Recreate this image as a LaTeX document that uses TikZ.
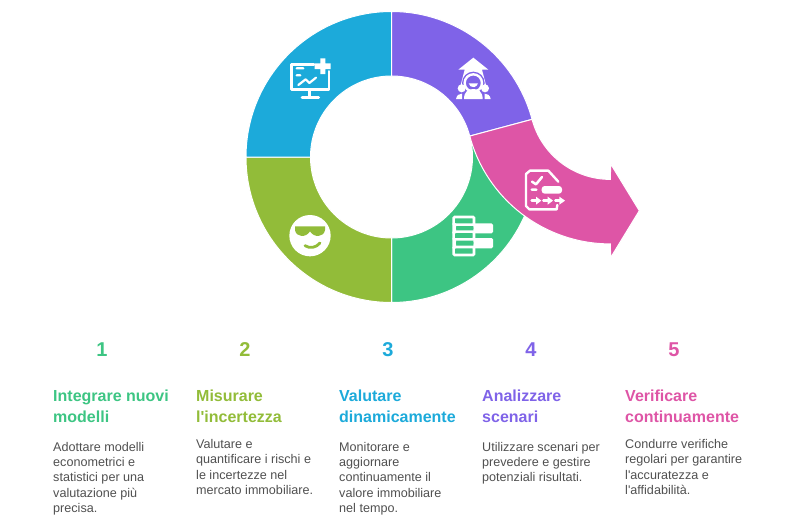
\documentclass[tikz,border=0pt]{standalone}
\usepackage{fontspec}
\setmainfont{Liberation Sans}[Ligatures=TeXOff]
\definecolor{cgreen}{HTML}{3DC583}
\definecolor{colive}{HTML}{92BC39}
\definecolor{cblue}{HTML}{1CAADA}
\definecolor{cpurple}{HTML}{7F63E8}
\definecolor{cpink}{HTML}{DE55A6}
\definecolor{cbody}{HTML}{505050}
\tikzset{
  seg/.style={draw=white,line width=1pt,line join=miter},
  num/.style={anchor=base,inner sep=0pt,font=\bfseries\fontsize{20}{24}\selectfont},
  head/.style={anchor=base west,inner sep=0pt,align=left,font=\bfseries\fontsize{16}{20.5}\selectfont},
  body/.style={anchor=base west,inner sep=0pt,align=left,text=cbody,font=\fontsize{12.6}{15.35}\selectfont},
  ic/.style={draw=white,line width=2.7pt,line cap=round,line join=round},
  icthin/.style={draw=white,line width=2.2pt,line cap=round,line join=round},
  zoomed/.style={shift={(240,0)},x=0.33333pt,y=-0.33333pt}
}
\begin{document}
\begin{tikzpicture}[x=1pt,y=1pt]
\useasboundingbox (0,0) rectangle (797,-522);
\coordinate (c) at (391.5,-157);
\coordinate (d) at (610.3,-98.4);
% ring segments
\fill[cgreen,seg] ([shift={(-90:145.5pt)}]c) arc[start angle=-90,end angle=15,radius=145.5pt] -- ([shift={(15:81pt)}]c) arc[start angle=15,end angle=-90,radius=81pt] -- cycle;
\fill[colive,seg] ([shift={(180:145.5pt)}]c) arc[start angle=180,end angle=270,radius=145.5pt] -- ([shift={(270:81pt)}]c) arc[start angle=270,end angle=180,radius=81pt] -- cycle;
\fill[cblue,seg] ([shift={(90:145.5pt)}]c) arc[start angle=90,end angle=180,radius=145.5pt] -- ([shift={(180:81pt)}]c) arc[start angle=180,end angle=90,radius=81pt] -- cycle;
\fill[cpurple,seg] ([shift={(15:145.5pt)}]c) arc[start angle=15,end angle=90,radius=145.5pt] -- ([shift={(90:81pt)}]c) arc[start angle=90,end angle=15,radius=81pt] -- cycle;
% arrow
\fill[cpink,seg] ([shift={(195:145.5pt)}]d) arc[start angle=195,end angle=270,radius=145.5pt] -- (610.7,-257.5) -- (639.3,-210.7) -- (610.7,-164) -- ([shift={(270:81pt)}]d) arc[start angle=270,end angle=195,radius=81pt] -- cycle;

% monitor icon
\begin{scope}[zoomed]
\draw[ic] (222,193) -- (154,193) -- (154,269) -- (267,269) -- (267,214);
\draw[ic] (208,272) -- (208,290) (186,292) -- (236,292);
\fill[white] (241,175) rectangle (256,222) (224,190) rectangle (272,207);
\draw[icthin] (170,205) -- (190,205) (170,226) -- (181,226) (175,255) -- (197,238) -- (208,249) -- (228,233);
\end{scope}
% person icon
\begin{scope}[zoomed]
\fill[white] (700,173) -- (745,209) -- (726,209) -- (738,255) -- (662,255) -- (674,209) -- (655,209) -- cycle;
\fill[cpurple] (700,249) circle[radius=34pt/3];
\draw[white,line width=2.4pt] (700,249) circle[radius=26pt/3];
\fill[white] (686,250) arc[start angle=190,end angle=350,radius=14pt/3] -- cycle;
\fill[white] (672,297) .. controls (672,275) and (685,267) .. (700,267) .. controls (715,267) and (728,275) .. (728,297) -- cycle;
\fill[white] (665,265) circle[radius=12pt/3] (735,265) circle[radius=12pt/3];
\fill[white] (648,297) .. controls (650,285) and (658,281) .. (666,281) -- (666,297) -- cycle;
\fill[white] (752,297) .. controls (750,285) and (742,281) .. (734,281) -- (734,297) -- cycle;
\end{scope}
% document icon
\begin{scope}[zoomed]
\draw[icthin,line width=2.4pt] (955,545) -- (925,512) -- (870,512) -- (858,522) -- (858,618) -- (868,628) -- (950,628) -- (952,615);
\draw[icthin,line width=2.5pt] (876,545) -- (888,553) -- (906,531) (875,569) -- (889,569);
\fill[white,rounded corners=3pt] (905,558) rectangle (966,581);
\draw[icthin,line width=2.5pt] (875,602) -- (895,602) (910,602) -- (932,602) (946,602) -- (968,602);
\fill[white] (888,590) -- (904,602) -- (888,614) -- cycle (923,590) -- (939,602) -- (923,614) -- cycle (958,590) -- (975,602) -- (958,614) -- cycle;
\end{scope}
% bars icon
\begin{scope}[zoomed]
\draw[ic,line width=2.6pt,line cap=butt,line join=miter,rounded corners=1pt] (641,651) rectangle (702,674) (641,695) rectangle (702,718) (641,741) rectangle (702,765);
\fill[white] (637,670) rectangle (648,700) (637,715) rectangle (648,745);
\fill[white,rounded corners=1.5pt] (700,670) rectangle (759,700) (700,714) rectangle (759,745);
\fill[cgreen] (648,682) rectangle (700,687) (648,726) rectangle (700,733);
\end{scope}
% smiley icon
\begin{scope}[zoomed]
\fill[white] (210,707) circle[radius=62pt/3];
\fill[colive] (165,679) -- (255,679) -- (255,690) .. controls (252,712) and (222,714) .. (210,694) .. controls (198,714) and (168,712) .. (165,690) -- cycle;
\draw[colive,line width=2.8pt,line cap=round] (195,737) .. controls (210,747) and (228,743) .. (240,729);
\end{scope}

% numbers
\node[num,text=cgreen] (n1) at (102,-356.7) {1};
\node[num,text=colive] (n2) at (245,-356.7) {2};
\node[num,text=cblue] (n3) at (388,-356.7) {3};
\node[num,text=cpurple] (n4) at (531,-356.7) {4};
\node[num,text=cpink] (n5) at (674,-356.7) {5};
% headings (anchor is the baseline of the last line)
\node[head,text=cgreen] (h1) at (53,-422.2) {Integrare nuovi\\modelli};
\node[head,text=colive] (h2) at (196,-422.2) {Misurare\\l'incertezza};
\node[head,text=cblue] (h3) at (339,-422.2) {Valutare\\dinamicamente};
\node[head,text=cpurple] (h4) at (482,-422.2) {Analizzare\\scenari};
\node[head,text=cpink] (h5) at (625,-422.2) {Verificare\\continuamente};
% bodies
\node[body] (b1) at (53,-512.4) {Adottare modelli\\econometrici e\\statistici per una\\valutazione più\\precisa.};
\node[body] (b2) at (196,-494.35) {Valutare e\\quantificare i rischi e\\le incertezze nel\\mercato immobiliare.};
\node[body] (b3) at (339,-512.4) {Monitorare e\\aggiornare\\continuamente il\\valore immobiliare\\nel tempo.};
\node[body] (b4) at (482,-481.7) {Utilizzare scenari per\\prevedere e gestire\\potenziali risultati.};
\node[body] (b5) at (625,-494.35) {Condurre verifiche\\regolari per garantire\\l'accuratezza e\\l'affidabilità.};
\end{tikzpicture}
\end{document}
